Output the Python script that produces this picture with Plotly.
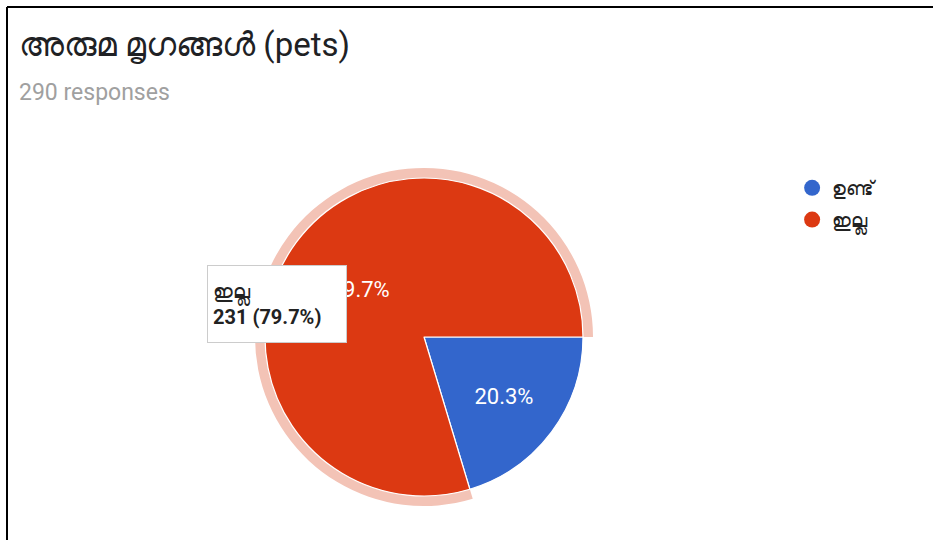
import plotly.graph_objects as go

# Survey answers: do you keep pets?
labels = ["ഉണ്ട്", "ഇല്ല"]
counts = [59, 231]
colors = ["#3366cc", "#dc3912"]
halo_colors = ["rgba(0,0,0,0)", "#f3c3b6"]

title_text = "അരുമ മൃഗങ്ങൾ (pets)"
total = sum(counts)
subtitle_text = f"{total} responses"

W, H = 933, 540
FONT = "Roboto, 'Noto Sans', Arial, sans-serif"

fig = go.Figure()

# highlight ring behind the hovered slice
fig.add_trace(go.Pie(
    labels=labels, values=counts, sort=False, direction="clockwise", rotation=90,
    marker=dict(colors=halo_colors, line=dict(width=0)),
    textinfo="none", hoverinfo="skip", showlegend=False,
    domain=dict(x=[255 / W, 593 / W], y=[(H - 506) / H, (H - 168) / H]),
))

# main pie
fig.add_trace(go.Pie(
    labels=labels, values=counts, sort=False, direction="clockwise", rotation=90,
    marker=dict(colors=colors, line=dict(color="white", width=1.2)),
    texttemplate="%{percent:.1%}", textposition="inside",
    insidetextorientation="horizontal",
    textfont=dict(color="white", size=22, family=FONT),
    showlegend=False,
    domain=dict(x=[265 / W, 583 / W], y=[(H - 496) / H, (H - 178) / H]),
))

# circular legend markers
for k, (lab, col) in enumerate(zip(labels, colors)):
    fig.add_trace(go.Scatter(
        x=[None], y=[None], mode="markers", name=lab, legendgroup=f"g{k}",
        marker=dict(symbol="circle", size=19, color=col),
    ))

# tooltip for the highlighted slice
i = 1
tip = f"{labels[i]}<br><b>{counts[i]} ({counts[i] / total:.1%})</b>"

fig.update_layout(
    width=W, height=H,
    margin=dict(l=0, r=0, t=0, b=0),
    paper_bgcolor="white", plot_bgcolor="white",
    font=dict(family=FONT, color="#222222"),
    xaxis=dict(visible=False), yaxis=dict(visible=False),
    legend=dict(
        x=0.849, y=1 - 169 / H, xanchor="left", yanchor="top",
        font=dict(size=19, color="#222222"), itemsizing="trace",
        tracegroupgap=4, bgcolor="rgba(0,0,0,0)",
    ),
    annotations=[
        dict(text=title_text, x=17 / W, y=1 - 44 / H, xref="paper", yref="paper",
             xanchor="left", yanchor="middle", showarrow=False,
             font=dict(size=33, color="#202124", family=FONT)),
        dict(text=subtitle_text, x=17 / W, y=1 - 92 / H, xref="paper", yref="paper",
             xanchor="left", yanchor="middle", showarrow=False,
             font=dict(size=23, color="#a0a0a0", family=FONT)),
        dict(text=tip, x=207 / W, y=1 - 265 / H, xref="paper", yref="paper",
             xanchor="left", yanchor="top", showarrow=False, align="left",
             width=128, height=66, valign="middle",
             bgcolor="white", bordercolor="#cccccc", borderwidth=1, borderpad=5,
             font=dict(size=20, color="#222222", family=FONT)),
    ],
    shapes=[
        dict(type="line", xref="paper", yref="paper", x0=7 / W, x1=1, y0=1 - 7 / H, y1=1 - 7 / H,
             line=dict(color="black", width=2)),
        dict(type="line", xref="paper", yref="paper", x0=7 / W, x1=7 / W, y0=0, y1=1 - 7 / H,
             line=dict(color="black", width=2)),
    ],
)

fig.write_html("out.html")
